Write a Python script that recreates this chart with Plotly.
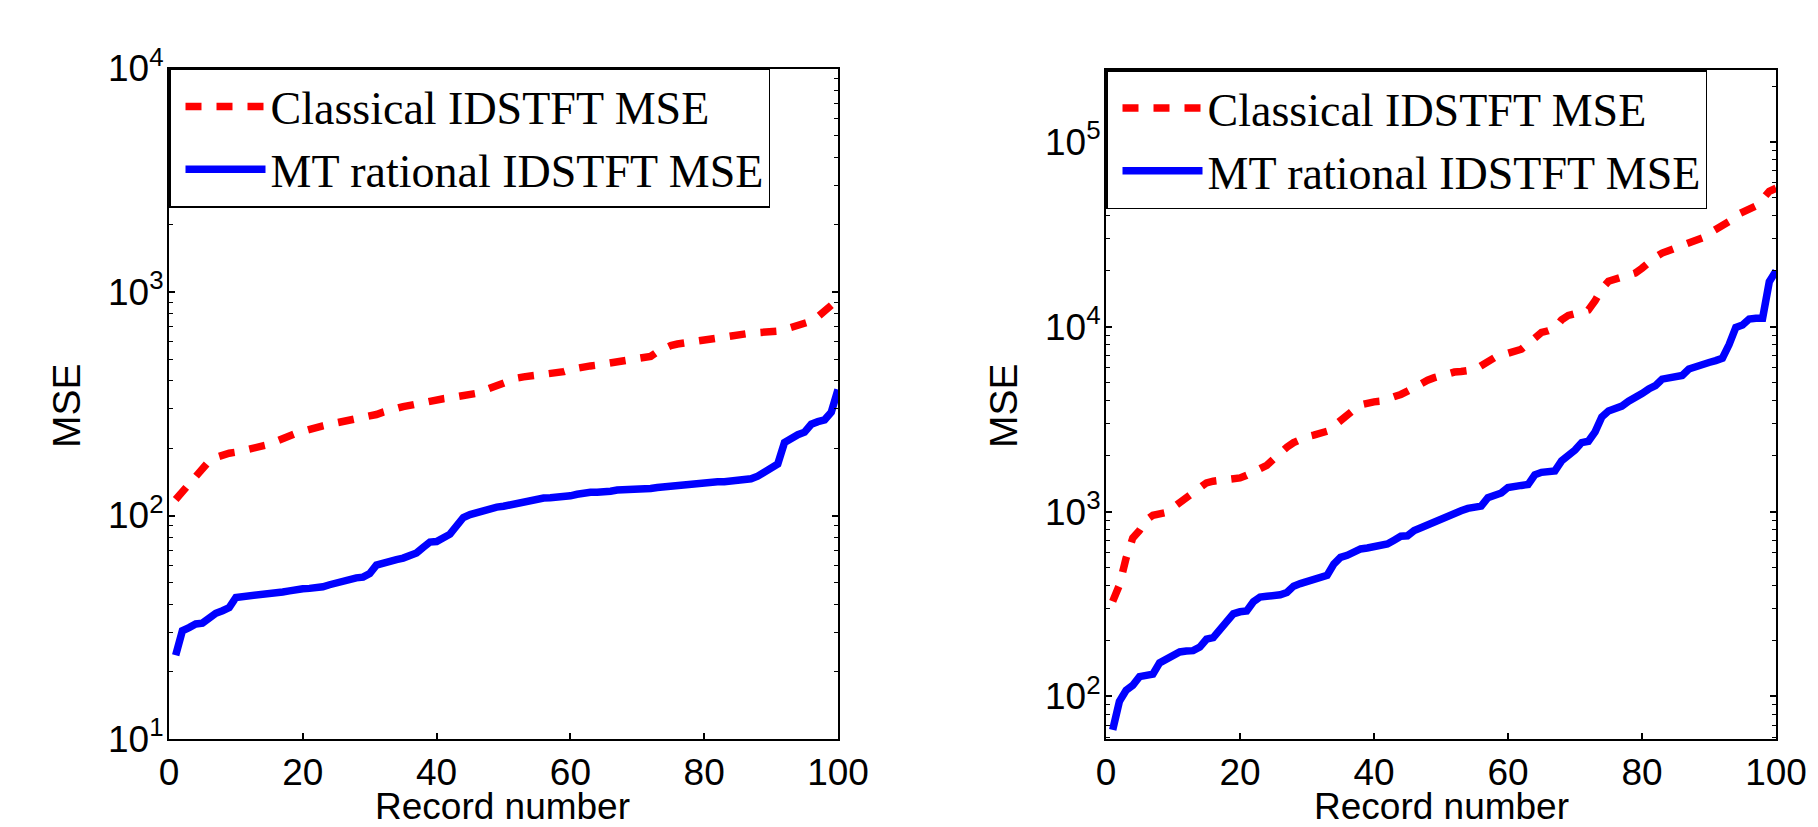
import plotly.graph_objects as go

records = list(range(1, 101))

left_classical = [118, 128, 140, 152, 165, 175, 182, 187, 190, 192,
                  195, 197, 199, 202, 208, 215, 222, 228, 233, 238,
                  244, 248, 252, 256, 259, 262, 265, 268, 272, 276,
                  283, 290, 297, 303, 307, 311, 316, 322, 328, 331,
                  333, 336, 339, 342, 345, 352, 362, 372, 382, 395,
                  405, 412, 417, 420, 422, 424, 428, 433, 440, 450,
                  458, 463, 467, 471, 476, 480, 484, 488, 492, 495,
                  500, 515, 540, 562, 576, 585, 592, 598, 603, 607,
                  612, 620, 630, 638, 644, 650, 655, 658, 660, 662,
                  668, 680, 695, 708, 720, 740, 775, 820, 870, 925]

left_rational = [23.7, 30.5, 31.5, 32.7, 33, 35, 36.5, 37.5, 38.7, 43,
                 43.3, 43.3, 43.5, 44, 44.5, 45, 45.5, 46, 46.8, 47,
                 47.2, 47.3, 48, 49, 50, 50.3, 52.3, 52.6, 53, 55,
                 60, 61.5, 62.5, 63.5, 64.5, 66, 68, 72, 76, 76.5,
                 79, 82.5, 90, 98, 101, 103, 106.5, 107.5, 109, 110,
                 111.5, 113.5, 115.5, 118, 119.5, 119.7, 120, 120.5, 121, 122.5,
                 124.5, 126.5, 127, 127, 127, 128.5, 130, 130, 130, 130,
                 130.5, 132, 133.5, 134.5, 136, 136.5, 136.5, 137, 139.5, 140.5,
                 141, 141.5, 141.5, 142, 144.5, 144.5, 146, 150, 156, 162,
                 170, 212, 222, 230, 236, 256, 263, 268, 290, 366]

right_classical = [327, 400, 560, 720, 790, 900, 955, 965, 990, 1050,
                   1120, 1180, 1260, 1350, 1430, 1460, 1470, 1480, 1490, 1520,
                   1570, 1630, 1690, 1780, 1920, 2080, 2230, 2360, 2460, 2540,
                   2590, 2640, 2720, 2900, 3130, 3350, 3550, 3780, 3880, 3920,
                   3950, 4050, 4200, 4300, 4480, 4720, 4950, 5130, 5300, 5450,
                   5570, 5680, 5720, 5760, 5850, 6150, 6550, 6800, 7000, 7150,
                   7300, 7550, 8100, 8800, 9300, 9500, 9800, 10900, 11500, 11750,
                   12000, 12300, 13800, 16000, 17600, 18100, 18500, 19000, 19500, 20700,
                   22300, 23800, 25000, 25800, 26500, 27300, 28000, 28800, 30200, 32000,
                   33500, 35000, 37000, 40000, 41800, 43000, 45000, 49000, 54000, 56000]

right_rational = [66, 94, 108, 115, 128, 131, 132, 152, 158, 166,
                  174, 176, 177, 185, 204, 208, 232, 258, 280, 287,
                  290, 325, 345, 348, 350, 355, 365, 395, 408, 418,
                  428, 438, 452, 520, 565, 580, 610, 628, 635, 648,
                  660, 668, 700, 735, 740, 790, 818, 850, 880, 915,
                  950, 990, 1010, 1040, 1058, 1070, 1190, 1230, 1260, 1350,
                  1380, 1385, 1400, 1580, 1630, 1640, 1660, 1880, 2000, 2150,
                  2360, 2400, 2700, 3250, 3500, 3620, 3720, 3950, 4100, 4350,
                  4600, 4800, 5200, 5300, 5350, 5450, 5900, 6100, 6200, 6400,
                  6550, 6750, 8000, 9900, 10200, 11000, 11100, 11100, 17500, 20000]

x_ticks = [0, 20, 40, 60, 80, 100]
left_y_ticks = [10, 100, 1000, 10000]
left_y_labels = ["10<sup>1</sup>", "10<sup>2</sup>", "10<sup>3</sup>", "10<sup>4</sup>"]
right_y_ticks = [100, 1000, 10000, 100000]
right_y_labels = ["10<sup>2</sup>", "10<sup>3</sup>", "10<sup>4</sup>", "10<sup>5</sup>"]
minor_mantissas = [2, 3, 4, 5, 6, 7, 8, 9]
left_minor = [m * d for d in (10, 100, 1000) for m in minor_mantissas]
right_minor = [m * d for d in (10, 100, 1000, 10000, 100000) for m in minor_mantissas]

name_classical = "Classical IDSTFT MSE"
name_rational = "MT rational IDSTFT MSE"

RED = "#ff0000"
BLUE = "#0000ff"
W, H = 1818, 827
DASH = "16px,15px"
LW = 7.5

fig = go.Figure()
fig.add_trace(go.Scatter(x=records, y=left_classical, mode="lines", name=name_classical,
                         line=dict(color=RED, width=LW, dash=DASH),
                         xaxis="x", yaxis="y", legend="legend"))
fig.add_trace(go.Scatter(x=records, y=left_rational, mode="lines", name=name_rational,
                         line=dict(color=BLUE, width=LW),
                         xaxis="x", yaxis="y", legend="legend"))
fig.add_trace(go.Scatter(x=records, y=right_classical, mode="lines", name=name_classical,
                         line=dict(color=RED, width=LW, dash=DASH),
                         xaxis="x2", yaxis="y2", legend="legend2"))
fig.add_trace(go.Scatter(x=records, y=right_rational, mode="lines", name=name_rational,
                         line=dict(color=BLUE, width=LW),
                         xaxis="x2", yaxis="y2", legend="legend2"))

def px_x(p):
    return p / W

def px_y(p):
    return 1 - p / H

SANS = "Liberation Sans, Arial, sans-serif"
tickfont = dict(family=SANS, size=37, color="black")
common_x = dict(range=[0, 100], tickvals=x_ticks, ticktext=[str(v) for v in x_ticks],
                ticks="inside", ticklen=6, tickwidth=1.5, tickcolor="black",
                showline=True, linecolor="black", linewidth=2, mirror="ticks",
                showgrid=False, zeroline=False, tickfont=tickfont, ticklabelstandoff=0,
                automargin=False)
common_y = dict(type="log", ticks="inside", ticklen=6, tickwidth=1.5, tickcolor="black",
                showline=True, linecolor="black", linewidth=2, mirror="ticks",
                showgrid=False, zeroline=False, tickfont=tickfont, ticklabelstandoff=-4,
                automargin=False)
minor_common = dict(ticks="inside", ticklen=4, tickwidth=1.2, tickcolor="black", showgrid=False)

legend_common = dict(font=dict(family="Liberation Serif, Times New Roman, serif", size=46, color="black"),
                     bgcolor="white", bordercolor="black", borderwidth=1.5,
                     xanchor="left", yanchor="top", itemwidth=80, indentation=10,
                     itemclick=False, itemdoubleclick=False)

fig.update_layout(
    template="none",
    width=W, height=H, autosize=False,
    margin=dict(l=0, r=0, t=0, b=0, autoexpand=False),
    paper_bgcolor="white", plot_bgcolor="white",
    xaxis=dict(domain=[px_x(169), px_x(838)], anchor="y", **common_x),
    yaxis=dict(domain=[px_y(739), px_y(68.5)], anchor="x", range=[1, 4],
               tickvals=left_y_ticks, ticktext=left_y_labels,
               minor=dict(tickvals=left_minor, **minor_common), **common_y),
    xaxis2=dict(domain=[px_x(1106), px_x(1776)], anchor="y2", **common_x),
    yaxis2=dict(domain=[px_y(739), px_y(70)], anchor="x2", range=[1.770, 5.388],
                tickvals=right_y_ticks, ticktext=right_y_labels,
                minor=dict(tickvals=right_minor, **minor_common), **common_y),
    legend=dict(x=px_x(169), y=px_y(68.5), **legend_common),
    legend2=dict(x=px_x(1106), y=px_y(70), **legend_common),
    showlegend=True,
)

titlefont = dict(family=SANS, size=37, color="black")
for cx in (503, 1441):
    fig.add_annotation(text="Record number", x=px_x(cx), y=px_y(806), xref="paper", yref="paper",
                       showarrow=False, font=titlefont, xanchor="center", yanchor="middle")
for cx in (67, 1004):
    fig.add_annotation(text="MSE", x=px_x(cx), y=px_y(406), xref="paper", yref="paper",
                       showarrow=False, font=dict(family=SANS, size=39, color="black"), textangle=-90,
                       xanchor="center", yanchor="middle")

fig.write_html("out.html", config={"displayModeBar": False},
               post_script="document.body.style.margin='0';document.body.style.overflow='hidden';")
